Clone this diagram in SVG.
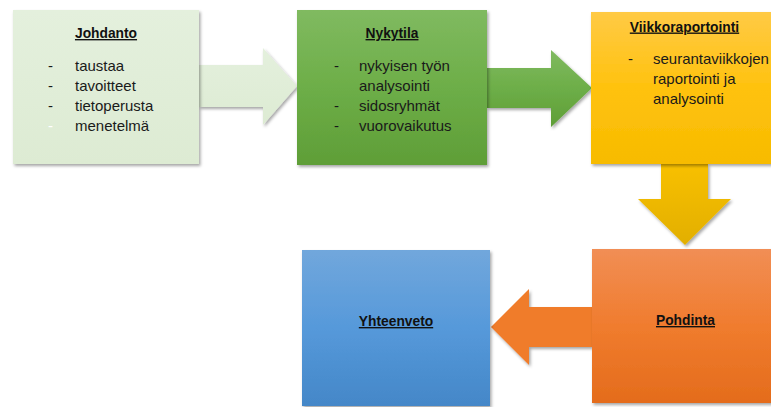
<svg xmlns="http://www.w3.org/2000/svg" width="771" height="407" viewBox="0 0 771 407">
  <defs>
    <filter id="shadow" x="-10%" y="-10%" width="130%" height="130%">
      <feDropShadow dx="1.5" dy="2" stdDeviation="1.5" flood-color="#000" flood-opacity="0.35"/>
    </filter>
    <linearGradient id="gLight" x1="0" y1="0" x2="0" y2="1">
      <stop offset="0" stop-color="#E4F0DD"/>
      <stop offset="1" stop-color="#DDEBD3"/>
    </linearGradient>
    <linearGradient id="gGreen" x1="0" y1="0" x2="0" y2="1">
      <stop offset="0" stop-color="#80BA60"/>
      <stop offset="0.5" stop-color="#6DAE48"/>
      <stop offset="1" stop-color="#5F9E37"/>
    </linearGradient>
    <linearGradient id="gYellow" x1="0" y1="0" x2="0" y2="1">
      <stop offset="0" stop-color="#FFCA45"/>
      <stop offset="0.5" stop-color="#FFC20E"/>
      <stop offset="1" stop-color="#F7BB00"/>
    </linearGradient>
    <linearGradient id="gGold" x1="0" y1="0" x2="0" y2="1">
      <stop offset="0" stop-color="#F8C000"/>
      <stop offset="1" stop-color="#E2AF00"/>
    </linearGradient>
    <linearGradient id="gOrange" x1="0" y1="0" x2="0" y2="1">
      <stop offset="0" stop-color="#F18E55"/>
      <stop offset="0.5" stop-color="#F07C2E"/>
      <stop offset="1" stop-color="#E46C1C"/>
    </linearGradient>
    <linearGradient id="gBlue" x1="0" y1="0" x2="0" y2="1">
      <stop offset="0" stop-color="#71A7DC"/>
      <stop offset="0.5" stop-color="#5699DA"/>
      <stop offset="1" stop-color="#4487C8"/>
    </linearGradient>
    <style>
      .title { font-family: "Liberation Sans", Arial, sans-serif; font-size: 13.8px; font-weight: bold; fill: #111; text-decoration: underline; text-anchor: middle; }
      .body { font-family: "Liberation Sans", Arial, sans-serif; font-size: 15px; fill: #1a1a1a; }
      .dash { font-family: "Liberation Sans", Arial, sans-serif; font-size: 15px; fill: #1a1a1a; }
      .box { filter: url(#shadow); }
    </style>
  </defs>

  <rect width="771" height="407" fill="#FFFFFF"/>

  <!-- connectors: block arrows between the stages -->
  <g id="connectors" class="box">
    <path d="M199,65 H263 V48 L297,86 L263,125 V107 H199 Z" fill="url(#gLight)"/>
    <path d="M487,68 H551 V50 L592,88 L551,127 V108 H487 Z" fill="url(#gGreen)"/>
    <path d="M661,164 H708 V199 H731 L685,245 L638,199 H661 Z" fill="url(#gGold)"/>
    <path d="M592,307 H529 V289 L491,327 L529,365 V347 H592 Z" fill="#F07B2C"/>
  </g>

  <g id="johdanto">
    <rect class="box" x="13" y="10" width="186" height="154" fill="url(#gLight)"/>
    <text class="title" x="106" y="38">Johdanto</text>
    <text class="dash" x="48" y="70.5">-</text>
    <text class="dash" x="48" y="90.5">-</text>
    <text class="dash" x="48" y="110.5">-</text>
    <text class="dash" x="48" y="130.5" style="fill:#FFFFFF">-</text>
    <text class="body" x="75" y="70.5">taustaa</text>
    <text class="body" x="75" y="90.5">tavoitteet</text>
    <text class="body" x="75" y="110.5">tietoperusta</text>
    <text class="body" x="75" y="130.5">menetelmä</text>
  </g>

  <g id="nykytila">
    <rect class="box" x="297" y="10" width="190" height="155" fill="url(#gGreen)"/>
    <text class="title" x="392" y="38">Nykytila</text>
    <text class="dash" x="334" y="71">-</text>
    <text class="dash" x="334" y="110.5">-</text>
    <text class="dash" x="334" y="130.5">-</text>
    <text class="body" x="359" y="71">nykyisen työn</text>
    <text class="body" x="359" y="91">analysointi</text>
    <text class="body" x="359" y="110.5">sidosryhmät</text>
    <text class="body" x="359" y="130.5">vuorovaikutus</text>
  </g>

  <g id="viikkoraportointi">
    <rect class="box" x="591" y="12" width="190" height="152" fill="url(#gYellow)"/>
    <text class="title" x="684.5" y="31.5">Viikkoraportointi</text>
    <text class="dash" x="628" y="64">-</text>
    <text class="body" x="653" y="64">seurantaviikkojen</text>
    <text class="body" x="653" y="84">raportointi ja</text>
    <text class="body" x="653" y="104">analysointi</text>
  </g>

  <g id="pohdinta">
    <rect class="box" x="592" y="249" width="190" height="154" fill="url(#gOrange)"/>
    <text class="title" x="685.5" y="325">Pohdinta</text>
  </g>

  <g id="yhteenveto">
    <rect class="box" x="302" y="250" width="188" height="156" fill="url(#gBlue)"/>
    <text class="title" x="396" y="326">Yhteenveto</text>
  </g>
</svg>
